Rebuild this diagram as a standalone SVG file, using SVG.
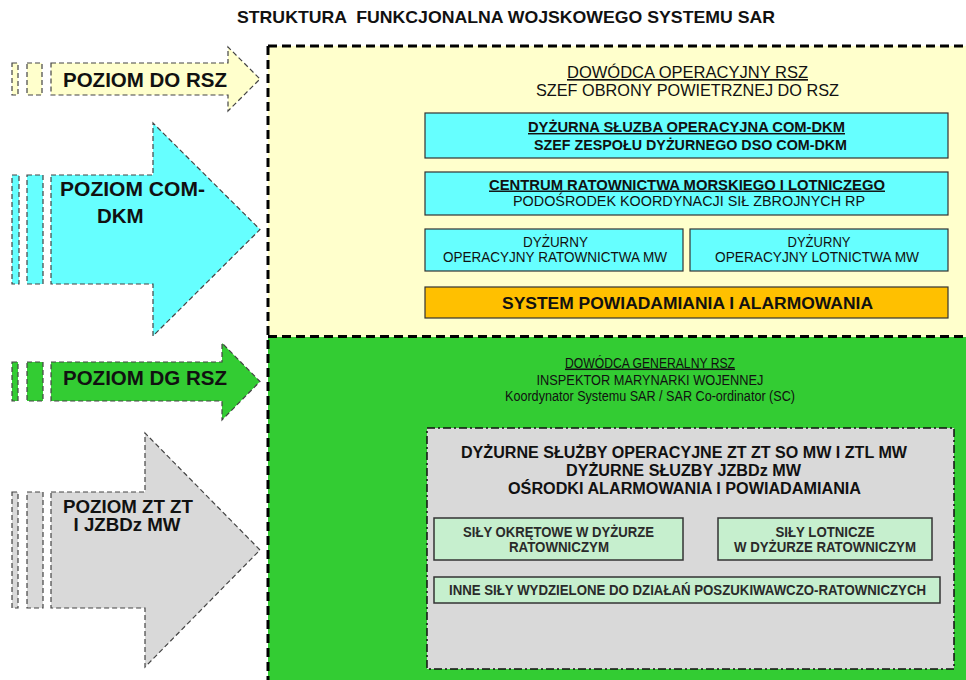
<svg xmlns="http://www.w3.org/2000/svg" width="966" height="680" viewBox="0 0 966 680">
<defs>
<style>
.t{font-family:"Liberation Sans",Arial,sans-serif;fill:#111;text-anchor:middle}
.s{text-anchor:start}
.b{font-weight:bold}
.u{text-decoration:underline}
.arr{stroke:#444;stroke-width:1.2;stroke-dasharray:5 3}
.big{fill:none;stroke:#000;stroke-width:3;stroke-dasharray:9 5}
.cy{fill:#66FFFF;stroke:#333;stroke-width:1.2}
.lg{fill:#C6EFCE;stroke:#333;stroke-width:1.5}
.lgt{fill:#2a2a2a}
</style>
</defs>
<rect width="966" height="680" fill="#ffffff"/>
<text class="t b" x="506" y="23" font-size="17" textLength="538" lengthAdjust="spacingAndGlyphs" xml:space="preserve">STRUKTURA  FUNKCJONALNA WOJSKOWEGO SYSTEMU SAR</text>

<g id="arrow-do-rsz">
<rect class="arr" x="12" y="63" width="6" height="32" fill="#FFFFCC"/>
<rect class="arr" x="27" y="63" width="15" height="32" fill="#FFFFCC"/>
<polygon class="arr" points="51,63 228,63 228,47 260,79 228,111 228,95 51,95" fill="#FFFFCC"/>
<text class="t b" x="145" y="86.5" font-size="20.5" textLength="164" lengthAdjust="spacingAndGlyphs">POZIOM DO RSZ</text>
</g>

<g id="arrow-com-dkm">
<rect class="arr" x="12" y="175" width="7" height="109" fill="#66FFFF"/>
<rect class="arr" x="27" y="175" width="16" height="109" fill="#66FFFF"/>
<polygon class="arr" points="51,175 153,175 153,123 260,229.5 153,336 153,284 51,284" fill="#66FFFF"/>
<text class="t b s" x="60" y="195.5" font-size="20.5" textLength="145" lengthAdjust="spacingAndGlyphs">POZIOM COM-</text>
<text class="t b s" x="97" y="222.5" font-size="20.5">DKM</text>
</g>

<g id="arrow-dg-rsz">
<rect class="arr" x="12" y="362" width="6" height="39" fill="#33CC33"/>
<rect class="arr" x="27" y="362" width="16" height="39" fill="#33CC33"/>
<polygon class="arr" points="51,362 222,362 222,343 260,381.5 222,420 222,401 51,401" fill="#33CC33"/>
<text class="t b" x="145" y="384.5" font-size="20.5" textLength="164" lengthAdjust="spacingAndGlyphs">POZIOM DG RSZ</text>
</g>

<g id="arrow-zt">
<rect class="arr" x="12" y="492" width="6" height="116" fill="#D9D9D9"/>
<rect class="arr" x="27" y="492" width="16" height="116" fill="#D9D9D9"/>
<polygon class="arr" points="51,492 145,492 145,433 260,550 145,667 145,608 51,608" fill="#D9D9D9"/>
<text class="t b" x="128" y="513" font-size="17.5" textLength="130" lengthAdjust="spacingAndGlyphs">POZIOM ZT ZT</text>
<text class="t b" x="127" y="531" font-size="17.5" textLength="107" lengthAdjust="spacingAndGlyphs">I JZBDz MW</text>
</g>

<g id="level-dowodca-operacyjny">
<rect x="268" y="46" width="720" height="291" fill="#FFFFCC"/>
<text class="t u" x="687.5" y="78" font-size="16.5" textLength="241" lengthAdjust="spacingAndGlyphs">DOWÓDCA OPERACYJNY RSZ</text>
<text class="t" x="687.5" y="95.5" font-size="16.5" textLength="303" lengthAdjust="spacingAndGlyphs">SZEF OBRONY POWIETRZNEJ DO RSZ</text>
</g>

<g id="level-dowodca-generalny">
<rect x="268" y="337" width="720" height="360" fill="#33CC33"/>
<text class="t u" x="650" y="367.5" font-size="15.5" textLength="170" lengthAdjust="spacingAndGlyphs">DOWÓDCA GENERALNY RSZ</text>
<text class="t" x="650" y="384.5" font-size="15.5" textLength="227" lengthAdjust="spacingAndGlyphs">INSPEKTOR MARYNARKI WOJENNEJ</text>
<text class="t" x="650" y="401" font-size="15.5" textLength="290" lengthAdjust="spacingAndGlyphs">Koordynator Systemu SAR / SAR Co-ordinator (SC)</text>
</g>

<g id="frame-lines">
<line class="big" x1="268" y1="46" x2="966" y2="46"/>
<line class="big" x1="268" y1="336.5" x2="966" y2="336.5"/>
<line class="big" x1="268" y1="46" x2="268" y2="680"/>
</g>

<g id="dso-com-dkm">
<rect class="cy" x="425" y="113" width="523" height="45"/>
<text class="t b u" x="686.5" y="132" font-size="14.5" textLength="317" lengthAdjust="spacingAndGlyphs">DYŻURNA SŁUZBA OPERACYJNA COM-DKM</text>
<text class="t b" x="690.5" y="150" font-size="14.4" textLength="313" lengthAdjust="spacingAndGlyphs">SZEF ZESPOŁU DYŻURNEGO DSO COM-DKM</text>
</g>

<g id="centrum-ratownictwa">
<rect class="cy" x="425" y="172" width="523" height="43"/>
<text class="t b u" x="687" y="189.5" font-size="14.6" textLength="396" lengthAdjust="spacingAndGlyphs">CENTRUM RATOWNICTWA MORSKIEGO I LOTNICZEGO</text>
<text class="t" x="689" y="206" font-size="15" textLength="352" lengthAdjust="spacingAndGlyphs">PODOŚRODEK KOORDYNACJI SIŁ ZBROJNYCH RP</text>
</g>

<g id="dyzurny-ratownictwa">
<rect class="cy" x="425" y="229" width="258" height="42"/>
<text class="t" x="555.5" y="246.5" font-size="14.5" textLength="65" lengthAdjust="spacingAndGlyphs">DYŻURNY</text>
<text class="t" x="555" y="262" font-size="14.5" textLength="224" lengthAdjust="spacingAndGlyphs">OPERACYJNY RATOWNICTWA MW</text>
</g>

<g id="dyzurny-lotnictwa">
<rect class="cy" x="690" y="229" width="258" height="42"/>
<text class="t" x="819" y="246.5" font-size="14.5" textLength="63" lengthAdjust="spacingAndGlyphs">DYŻURNY</text>
<text class="t" x="817" y="262" font-size="14.5" textLength="204" lengthAdjust="spacingAndGlyphs">OPERACYJNY LOTNICTWA MW</text>
</g>

<g id="system-powiadamiania">
<rect x="425" y="287" width="523" height="31" fill="#FFC000" stroke="#333" stroke-width="1.2"/>
<text class="t b" x="687.5" y="309" font-size="17.3" textLength="371" lengthAdjust="spacingAndGlyphs">SYSTEM POWIADAMIANIA I ALARMOWANIA</text>
</g>

<g id="dyzurne-sluzby">
<rect x="427" y="428" width="527" height="241" fill="#D9D9D9" stroke="#111" stroke-width="1.5" stroke-dasharray="8 3 2 3"/>
<text class="t b" x="684" y="457.5" font-size="16" textLength="446" lengthAdjust="spacingAndGlyphs">DYŻURNE SŁUŻBY OPERACYJNE ZT ZT SO MW I ZTL MW</text>
<text class="t b" x="683.5" y="475.5" font-size="16" textLength="235" lengthAdjust="spacingAndGlyphs">DYŻURNE SŁUZBY JZBDz MW</text>
<text class="t b" x="684.5" y="493.5" font-size="16" textLength="353" lengthAdjust="spacingAndGlyphs">OŚRODKI ALARMOWANIA I POWIADAMIANIA</text>
</g>

<g id="sily-okretowe">
<rect class="lg" x="434" y="518" width="249" height="42"/>
<text class="t b lgt" x="558.5" y="537" font-size="14" textLength="191" lengthAdjust="spacingAndGlyphs">SIŁY OKRĘTOWE W DYŻURZE</text>
<text class="t b lgt" x="559" y="552" font-size="14" textLength="100" lengthAdjust="spacingAndGlyphs">RATOWNICZYM</text>
</g>

<g id="sily-lotnicze">
<rect class="lg" x="718" y="518" width="214" height="42"/>
<text class="t b lgt" x="825" y="537" font-size="14" textLength="99" lengthAdjust="spacingAndGlyphs">SIŁY LOTNICZE</text>
<text class="t b lgt" x="825" y="552" font-size="14" textLength="182" lengthAdjust="spacingAndGlyphs">W DYŻURZE RATOWNICZYM</text>
</g>

<g id="inne-sily">
<rect class="lg" x="434" y="577" width="506" height="26"/>
<text class="t b lgt" x="687.5" y="595" font-size="14" textLength="477" lengthAdjust="spacingAndGlyphs">INNE SIŁY WYDZIELONE DO DZIAŁAŃ POSZUKIWAWCZO-RATOWNICZYCH</text>
</g>

<g id="connectors"></g>
</svg>
